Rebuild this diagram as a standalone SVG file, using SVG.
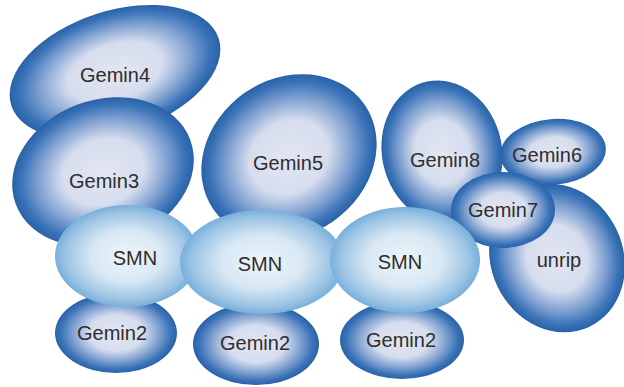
<svg xmlns="http://www.w3.org/2000/svg" width="624" height="387" viewBox="0 0 624 387">
<defs>
<radialGradient id="gd" cx="0.5" cy="0.5" r="0.5">
<stop offset="0" stop-color="#e3e6f1"/>
<stop offset="0.45" stop-color="#d6ddee"/>
<stop offset="0.72" stop-color="#7d9fd0"/>
<stop offset="0.9" stop-color="#3a73b8"/>
<stop offset="1" stop-color="#2a62a8"/>
</radialGradient>
<radialGradient id="gs" cx="0.5" cy="0.5" r="0.5">
<stop offset="0" stop-color="#eef4f9"/>
<stop offset="0.5" stop-color="#d8e8f4"/>
<stop offset="0.85" stop-color="#9cc4e4"/>
<stop offset="1" stop-color="#78b0db"/>
</radialGradient>
</defs>
<style>
.d{fill:url(#gd)}
.s{fill:url(#gs)}
text{font-family:"Liberation Sans",Arial,sans-serif;font-size:20px;fill:#2e2e2e;text-anchor:middle;dominant-baseline:central}
</style>
<rect width="624" height="387" fill="#fff"/>
<g id="connectors"/>
<g id="gemin4"><ellipse class="d" cx="115" cy="72" rx="109" ry="61" transform="rotate(-18 115 72)"/><text x="115" y="75">Gemin4</text></g>
<g id="gemin3"><ellipse class="d" cx="103" cy="172" rx="93" ry="72" transform="rotate(-20 103 172)"/><text x="104" y="181">Gemin3</text></g>
<g id="gemin5"><ellipse class="d" cx="289" cy="157" rx="92" ry="78" transform="rotate(-35 289 157)"/><text x="288" y="163">Gemin5</text></g>
<g id="gemin8"><ellipse class="d" cx="442" cy="152" rx="60" ry="72" transform="rotate(-12 442 152)"/><text x="445" y="160">Gemin8</text></g>
<g id="gemin6"><ellipse class="d" cx="553" cy="152" rx="53" ry="33" transform="rotate(-5 553 152)"/><text x="547" y="155">Gemin6</text></g>
<g id="unrip"><ellipse class="d" cx="557" cy="258" rx="66" ry="76" transform="rotate(-25 557 258)"/><text x="559" y="260">unrip</text></g>
<g id="gemin7"><ellipse class="d" cx="503" cy="210" rx="52" ry="38"/><text x="503" y="210">Gemin7</text></g>
<g id="gemin2a"><ellipse class="d" cx="116" cy="333" rx="61" ry="40"/><text x="112" y="333">Gemin2</text></g>
<g id="gemin2b"><ellipse class="d" cx="256" cy="344" rx="63" ry="41"/><text x="255" y="343">Gemin2</text></g>
<g id="gemin2c"><ellipse class="d" cx="402" cy="340" rx="62" ry="39"/><text x="401" y="340">Gemin2</text></g>
<g id="smn1"><ellipse class="s" cx="127" cy="256" rx="72" ry="51"/><text x="135" y="258">SMN</text></g>
<g id="smn2"><ellipse class="s" cx="262" cy="262" rx="82" ry="52"/><text x="260" y="264">SMN</text></g>
<g id="smn3"><ellipse class="s" cx="405" cy="260" rx="75" ry="53"/><text x="400" y="262">SMN</text></g>
</svg>
